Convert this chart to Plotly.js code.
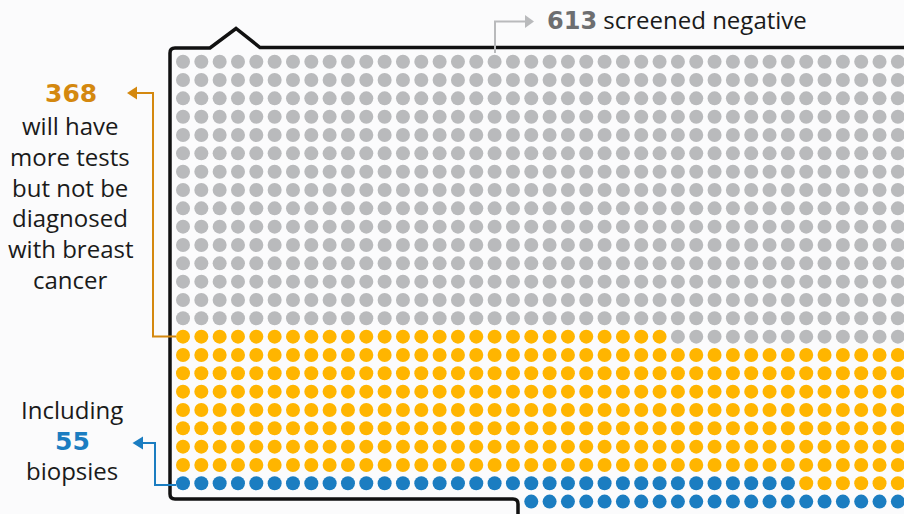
<!DOCTYPE html>
<html>
<head>
<meta charset="utf-8">
<script src="https://cdn.plot.ly/plotly-3.0.1.min.js"></script>
<style>
  html, body { margin: 0; padding: 0; background: #fbfbfc; }
  #chart { width: 904px; height: 514px; }
</style>
</head>
<body>
<div id="chart"></div>
<script>
// ---- Data ----
const categories = ['screened negative', 'will have more tests but not be diagnosed', 'biopsies'];
const totals = [613, 368, 55];           // labelled counts (368 includes the 55 biopsies)
const nCols = 40;                          // dots per row
const segmentCounts = [totals[0], totals[1] - totals[2], totals[2]]; // dots drawn per colour

// ---- Styles ----
const dotColors = ['#b9babc', '#ffb500', '#1b7dc1'];
const W = 904, H = 514;
const colX0 = 183, rowY0 = 61.7, step = 18.33;   // pixel geometry of the grid

// Fill order: rows top to bottom, each row right to left
const traces = [];
let idx = 0;
segmentCounts.forEach((n, k) => {
  const xs = [], ys = [];
  for (let j = 0; j < n; j++, idx++) {
    ys.push(Math.floor(idx / nCols));
    xs.push(nCols - 1 - (idx % nCols));
  }
  traces.push({
    type: 'scatter', mode: 'markers', x: xs, y: ys, name: categories[k],
    hoverinfo: 'skip', showlegend: false,
    marker: { size: 14, color: dotColors[k], line: { width: 0 } }
  });
});

// pixel -> paper helpers for decorations
const px = x => x / W;
const py = y => 1 - y / H;
const P = pts => pts.map((p, i) => (i ? 'L' : 'M') + px(p[0]) + ',' + py(p[1])).join(' ');

const orangeTxt = '#d4880f', blueTxt = '#1b7dc1', grayTxt = '#6d6e70';

const shapes = [
  // box outline with notch
  { type: 'path', xref: 'paper', yref: 'paper', line: { color: '#111', width: 3.5 },
    path: 'M' + px(518) + ',' + py(516) +
          ' L' + px(518) + ',' + py(504) +
          ' Q' + px(518) + ',' + py(499) + ' ' + px(513) + ',' + py(499) +
          ' L' + px(175) + ',' + py(499) +
          ' Q' + px(170) + ',' + py(499) + ' ' + px(170) + ',' + py(494) +
          ' L' + px(170) + ',' + py(53) +
          ' Q' + px(170) + ',' + py(48) + ' ' + px(175) + ',' + py(48) +
          ' L' + px(210) + ',' + py(48) +
          ' L' + px(236) + ',' + py(28.5) +
          ' L' + px(260) + ',' + py(47.5) +
          ' L' + px(906) + ',' + py(47.5) },
  // gray arrow (613)
  { type: 'path', xref: 'paper', yref: 'paper', line: { color: '#b9babc', width: 2 },
    path: P([[495, 53], [495, 21.5], [526, 21.5]]) },
  { type: 'path', xref: 'paper', yref: 'paper', line: { width: 0 }, fillcolor: '#b9babc',
    path: P([[525, 15], [534, 21.5], [525, 28]]) + ' Z' },
  // orange arrow (368)
  { type: 'path', xref: 'paper', yref: 'paper', line: { color: orangeTxt, width: 2 },
    path: P([[176, 336.5], [153, 336.5], [153, 93], [136, 93]]) },
  { type: 'path', xref: 'paper', yref: 'paper', line: { width: 0 }, fillcolor: orangeTxt,
    path: P([[137, 86.5], [127, 93], [137, 99.5]]) + ' Z' },
  // blue arrow (55)
  { type: 'path', xref: 'paper', yref: 'paper', line: { color: blueTxt, width: 2 },
    path: P([[176, 485], [155, 485], [155, 443], [142, 443]]) },
  { type: 'path', xref: 'paper', yref: 'paper', line: { width: 0 }, fillcolor: blueTxt,
    path: P([[143, 436.5], [132.5, 443], [143, 449.5]]) + ' Z' }
];

const FONT = '"Open Sans", "Liberation Sans", sans-serif';
const NUMFONT = '"DejaVu Sans", "Open Sans", sans-serif';
const ann = (x, y, text, opts) => Object.assign({
  xref: 'paper', yref: 'paper', x: px(x), y: py(y), text: text, showarrow: false,
  xanchor: 'center', yanchor: 'middle',
  font: { family: FONT, size: 24, color: '#1a1a1a' }
}, opts || {});

const leftLines = ['will have', 'more tests', 'but not be', 'diagnosed', 'with breast', 'cancer'];
const annotations = [
  ann(71, 93, '<b>' + totals[1] + '</b>', { font: { family: NUMFONT, size: 25, color: orangeTxt } }),
  ...leftLines.map((t, i) => ann(70, 125.5 + i * 30.8, t)),
  ann(72, 409.5, 'Including'),
  ann(72, 441, '<b>' + totals[2] + '</b>', { font: { family: NUMFONT, size: 25, color: blueTxt } }),
  ann(72, 470.5, 'biopsies'),
  ann(545, 20, '<span style="color:' + grayTxt + ';font-family:\'DejaVu Sans\'"><b>' + totals[0] + '</b></span> ' + categories[0],
      { xanchor: 'left', font: { family: FONT, size: 24, color: '#1a1a1a' } })
];

const layout = {
  width: W, height: H,
  margin: { l: 0, r: 0, t: 0, b: 0, pad: 0 },
  paper_bgcolor: '#fbfbfc', plot_bgcolor: '#fbfbfc',
  xaxis: { range: [-colX0 / step, (W - colX0) / step], visible: false, fixedrange: true },
  yaxis: { range: [(H - rowY0) / step, -rowY0 / step], visible: false, fixedrange: true },
  shapes: shapes, annotations: annotations
};

Plotly.newPlot('chart', traces, layout, { displayModeBar: false, staticPlot: true });
</script>
</body>
</html>
